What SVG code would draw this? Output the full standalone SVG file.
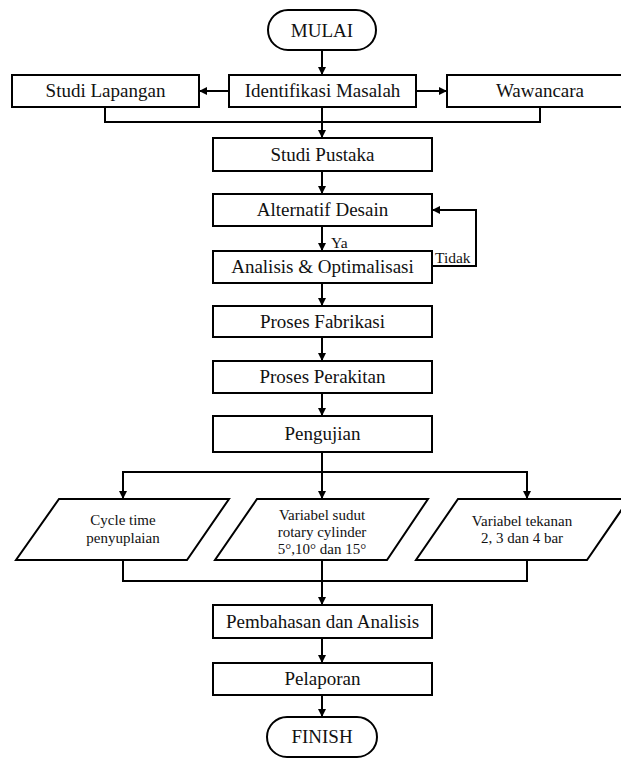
<svg xmlns="http://www.w3.org/2000/svg" width="621" height="759" viewBox="0 0 621 759">
<style>
.box{fill:#fff;stroke:#000;stroke-width:2}
.ln{fill:none;stroke:#000;stroke-width:2}
.t{font-size:19px;fill:#111;text-anchor:middle}
.s{font-size:15px;fill:#111;text-anchor:middle}
.l{font-size:15.5px;fill:#111}
</style>
<defs>
<marker id="ah" viewBox="0 0 10 10" refX="10" refY="5" markerWidth="9" markerHeight="8" markerUnits="userSpaceOnUse" orient="auto">
<path d="M0,0 L10,5 L0,10 z" fill="#000"/>
</marker>
</defs>
<rect width="621" height="759" fill="#fff"/>
<g font-family="'Liberation Serif', 'Times New Roman', Times, 'DejaVu Serif', serif">
<g id="connectors">
<path class="ln" d="M322,50 V75" marker-end="url(#ah)"/>
<path class="ln" d="M229,91 H199" marker-end="url(#ah)"/>
<path class="ln" d="M416,91 H447" marker-end="url(#ah)"/>
<path class="ln" d="M105,107 V122 H540 V107"/>
<path class="ln" d="M322,107 V138" marker-end="url(#ah)"/>
<path class="ln" d="M322,171 V194" marker-end="url(#ah)"/>
<path class="ln" d="M322,226 V251" marker-end="url(#ah)"/>
<path class="ln" d="M432,266 H476 V210 H432" marker-end="url(#ah)"/>
<path class="ln" d="M322,283 V306" marker-end="url(#ah)"/>
<path class="ln" d="M322,337 V361" marker-end="url(#ah)"/>
<path class="ln" d="M322,393 V416" marker-end="url(#ah)"/>
<path class="ln" d="M322,452 V499" marker-end="url(#ah)"/>
<path class="ln" d="M123,472 H527"/>
<path class="ln" d="M123,471 V499" marker-end="url(#ah)"/>
<path class="ln" d="M527,471 V499" marker-end="url(#ah)"/>
<path class="ln" d="M123,560 V581 H527 V559"/>
<path class="ln" d="M322,560 V605" marker-end="url(#ah)"/>
<path class="ln" d="M322,638 V663" marker-end="url(#ah)"/>
<path class="ln" d="M322,695 V717" marker-end="url(#ah)"/>
<text class="l" x="331" y="248">Ya</text>
<text class="l" x="435" y="263">Tidak</text>
</g>
<g id="mulai"><rect class="box" x="268" y="10" width="108" height="40" rx="20"/><text class="t" x="322" y="37">MULAI</text></g>
<g id="identifikasi"><rect class="box" x="229" y="75" width="187" height="32"/><text class="t" x="322.5" y="97">Identifikasi Masalah</text></g>
<g id="studi-lapangan"><rect class="box" x="12" y="75" width="187" height="32"/><text class="t" x="105.5" y="97">Studi Lapangan</text></g>
<g id="wawancara"><rect class="box" x="447" y="75" width="186" height="32"/><text class="t" x="540" y="97">Wawancara</text></g>
<g id="studi-pustaka"><rect class="box" x="213" y="138" width="219" height="33"/><text class="t" x="322.5" y="161">Studi Pustaka</text></g>
<g id="alternatif"><rect class="box" x="213" y="194" width="219" height="32"/><text class="t" x="322.5" y="216">Alternatif Desain</text></g>
<g id="analisis"><rect class="box" x="213" y="251" width="219" height="32"/><text class="t" x="322.5" y="273">Analisis &amp; Optimalisasi</text></g>
<g id="fabrikasi"><rect class="box" x="213" y="306" width="219" height="31"/><text class="t" x="322.5" y="328">Proses Fabrikasi</text></g>
<g id="perakitan"><rect class="box" x="213" y="361" width="219" height="32"/><text class="t" x="322.5" y="383">Proses Perakitan</text></g>
<g id="pengujian"><rect class="box" x="213" y="416" width="219" height="36"/><text class="t" x="322.5" y="440">Pengujian</text></g>
<g id="cycle-time"><polygon class="box" points="59,499 229,499 187,560 16,560"/><text class="s" x="123" y="525">Cycle time</text><text class="s" x="123" y="543">penyuplaian</text></g>
<g id="variabel-sudut"><polygon class="box" points="257,499 428,499 387,560 215,560"/><text class="s" x="322" y="520">Variabel sudut</text><text class="s" x="322" y="537">rotary cylinder</text><text class="s" x="322" y="554">5°,10° dan 15°</text></g>
<g id="variabel-tekanan"><polygon class="box" points="458,499 629,499 587,560 416,560"/><text class="s" x="522" y="526">Variabel tekanan</text><text class="s" x="522" y="543">2, 3 dan 4 bar</text></g>
<g id="pembahasan"><rect class="box" x="213" y="605" width="219" height="33"/><text class="t" x="322.5" y="628">Pembahasan dan Analisis</text></g>
<g id="pelaporan"><rect class="box" x="213" y="663" width="219" height="32"/><text class="t" x="322.5" y="685">Pelaporan</text></g>
<g id="finish"><rect class="box" x="267" y="717" width="110" height="40" rx="20"/><text class="t" x="322" y="743">FINISH</text></g>
</g>
</svg>
